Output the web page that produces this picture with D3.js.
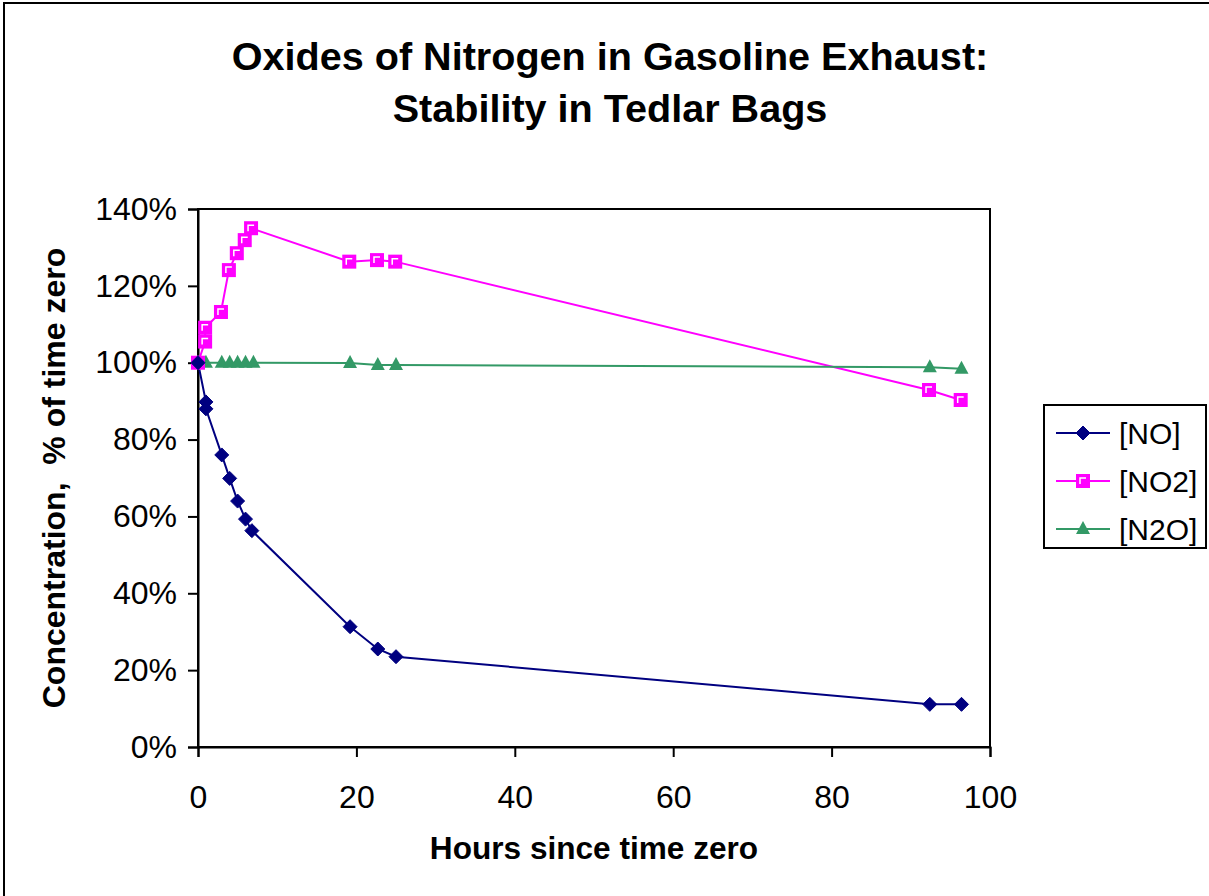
<!DOCTYPE html>
<html>
<head>
<meta charset="utf-8">
<script src="https://cdn.jsdelivr.net/npm/d3@7"></script>
<style>
  html, body { margin: 0; padding: 0; background: #fff; }
  svg { display: block; font-family: "Liberation Sans", Arial, sans-serif; }
</style>
</head>
<body>
<svg id="chart" width="1209" height="896"></svg>
<script>
// ---- data ----
const titleLines = ["Oxides of Nitrogen in Gasoline Exhaust:", "Stability in Tedlar Bags"];
const xLabel = "Hours since time zero";
const yLabel = "Concentration,  % of time zero";
const xTicks = [0, 20, 40, 60, 80, 100];
const yTicks = [0, 0.2, 0.4, 0.6, 0.8, 1.0, 1.2, 1.4];

const noHours  = [0, 1, 1, 3, 4, 5, 6, 6.8, 19.2, 22.7, 25.0, 92.4, 96.4];
const noValues = [1.00, 0.898, 0.880, 0.760, 0.699, 0.640, 0.593, 0.563, 0.313, 0.255, 0.235, 0.111, 0.111];

const no2Hours  = [0, 0.9, 0.9, 2.9, 3.9, 4.9, 5.9, 6.7, 19.1, 22.6, 24.9, 92.3, 96.3];
const no2Values = [1.00, 1.055, 1.091, 1.132, 1.241, 1.285, 1.319, 1.350, 1.263, 1.267, 1.263, 0.929, 0.903];

const n2oHours  = [0, 1, 3, 4, 5, 6, 7, 19.2, 22.7, 25.0, 92.4, 96.4];
const n2oValues = [1.00, 1.00, 1.00, 1.00, 1.00, 1.00, 1.00, 0.999, 0.994, 0.994, 0.988, 0.984];

const seriesNames = ["[NO]", "[NO2]", "[N2O]"];

// ---- chart ----
const svg = d3.select("#chart");
const plot = { left: 198, right: 990, top: 209, bottom: 747 };
const FONT = "Liberation Sans, Arial, sans-serif";

const x = d3.scaleLinear().domain([0, 100]).range([plot.left, plot.right]);
const y = d3.scaleLinear().domain([0, 1.4]).range([plot.bottom, plot.top]);

// outer border
svg.append("rect").attr("x", 4).attr("y", 3).attr("width", 1300).attr("height", 1000)
  .attr("fill", "none").attr("stroke", "#000").attr("stroke-width", 2);

// title
svg.append("text").attr("text-anchor", "middle")
  .style("font-size", "39.6px").style("font-weight", "bold")
  .selectAll("tspan").data(titleLines).join("tspan")
  .attr("x", 610).attr("y", (d, i) => 70 + i * 52).text(d => d);

// plot frame
svg.append("rect").attr("x", plot.left).attr("y", plot.top)
  .attr("width", plot.right - plot.left).attr("height", plot.bottom - plot.top)
  .attr("fill", "none").attr("stroke", "#000").attr("stroke-width", 2);

// axes
const yAxis = d3.axisLeft(y).tickValues(yTicks).tickFormat(d3.format(".0%")).tickSize(10).tickPadding(11);
const gy = svg.append("g").attr("transform", `translate(${plot.left},0)`).call(yAxis);
gy.select(".domain").attr("stroke-width", 2);
gy.selectAll(".tick line").attr("stroke-width", 2);
gy.selectAll("text").style("font-size", "32px").style("font-family", FONT).attr("fill", "#000");

const xAxis = d3.axisBottom(x).tickValues(xTicks).tickSize(10).tickPadding(28);
const gx = svg.append("g").attr("transform", `translate(0,${plot.bottom})`).call(xAxis);
gx.select(".domain").attr("stroke-width", 2);
gx.selectAll(".tick line").attr("stroke-width", 2);
gx.selectAll("text").style("font-size", "32px").style("font-family", FONT).attr("fill", "#000");

// axis titles
svg.append("text").attr("x", 594).attr("y", 859).attr("text-anchor", "middle")
  .style("font-size", "31.6px").style("font-weight", "bold").text(xLabel);
svg.append("text").attr("transform", "translate(65,478) rotate(-90)").attr("text-anchor", "middle")
  .style("font-size", "32px").style("font-weight", "bold").style("white-space", "pre").text(yLabel);

// series
const series = [
  { name: seriesNames[0], xs: noHours, ys: noValues, color: "#000080", marker: "diamond" },
  { name: seriesNames[1], xs: no2Hours, ys: no2Values, color: "#FF00FF", marker: "square" },
  { name: seriesNames[2], xs: n2oHours, ys: n2oValues, color: "#339966", marker: "triangle" }
];

const line = d3.line().x(d => x(d[0])).y(d => y(d[1]));

function drawMarker(g, type, color, cx, cy) {
  if (type === "diamond") {
    g.append("path")
      .attr("d", `M${cx},${cy - 7}L${cx + 7},${cy}L${cx},${cy + 7}L${cx - 7},${cy}Z`)
      .attr("fill", color).attr("stroke", color).attr("stroke-width", 1);
  } else if (type === "square") {
    g.append("rect").attr("x", cx - 6).attr("y", cy - 6).attr("width", 12).attr("height", 12)
      .attr("fill", color).attr("stroke", color).attr("stroke-width", 2);
    g.append("path").attr("d", `M${cx - 3},${cy + 3}L${cx - 3},${cy - 3}L${cx + 3},${cy - 3}`)
      .attr("fill", "none").attr("stroke", "#fff").attr("stroke-width", 1.5);
  } else {
    g.append("path").attr("d", `M${cx},${cy - 8}L${cx + 7},${cy + 5}L${cx - 7},${cy + 5}Z`)
      .attr("fill", color);
  }
}

series.forEach(s => {
  const pts = s.xs.map((h, i) => [h, s.ys[i]]);
  svg.append("path").datum(pts).attr("d", line).attr("fill", "none")
    .attr("stroke", s.color).attr("stroke-width", 2);
});
series.slice().reverse().forEach(s => {
  const g = svg.append("g");
  s.xs.forEach((h, i) => drawMarker(g, s.marker, s.color, x(h), y(s.ys[i])));
});

// legend
const lg = svg.append("g");
lg.append("rect").attr("x", 1044).attr("y", 405).attr("width", 162).attr("height", 143)
  .attr("fill", "#fff").attr("stroke", "#000").attr("stroke-width", 2);
series.forEach((s, i) => {
  const ly = 433 + i * 48;
  lg.append("line").attr("x1", 1056).attr("x2", 1110).attr("y1", ly).attr("y2", ly)
    .attr("stroke", s.color).attr("stroke-width", 2);
  drawMarker(lg, s.marker, s.color, 1083, ly);
  lg.append("text").attr("x", 1119).attr("y", ly + 11).style("font-size", "30px").text(s.name);
});
</script>
</body>
</html>
